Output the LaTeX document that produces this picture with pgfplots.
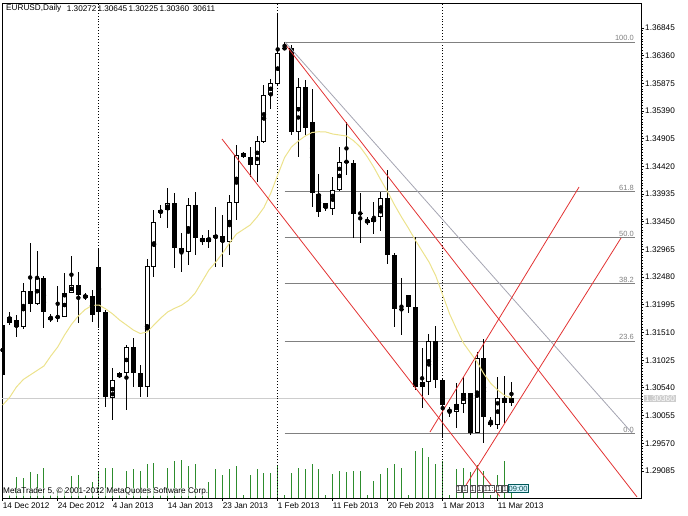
\documentclass[border=0pt]{standalone}
\usepackage{pgfplots}
\usepackage{pgfplotstable}
\usepackage{fontspec}
\setmainfont{Liberation Sans}
\pgfplotsset{compat=1.18}
\definecolor{volgreen}{RGB}{45,140,45}
\definecolor{maY}{RGB}{236,226,140}
\definecolor{chred}{RGB}{226,50,50}
\definecolor{fibgray}{RGB}{128,128,128}
\definecolor{diaggray}{RGB}{165,165,178}
\definecolor{pricegray}{RGB}{205,205,205}
\newcommand\f{\fontsize{8.2}{9}\selectfont}

\pgfplotstableread{
i o h l c v ma
0 1.31642 1.31729 1.30678 1.30766 0 1.30240
1 1.31672 1.31875 1.31642 1.31787 10200 1.30372
2 1.31729 1.31817 1.31437 1.31602 72400 1.30556
3 1.31602 1.32383 1.31567 1.32243 69000 1.30687
4 1.32243 1.33073 1.31875 1.32010 87400 1.30766
5 1.32010 1.32944 1.31992 1.32460 81600 1.30845
6 1.32460 1.32500 1.31584 1.31864 103000 1.30924
7 1.31729 1.31835 1.31700 1.31787 10200 1.31099
8 1.31772 1.32330 1.31700 1.31790 27200 1.31256
9 1.31787 1.32548 1.31777 1.32197 27200 1.31467
10 1.32208 1.32851 1.32197 1.32343 74800 1.31651
11 1.32343 1.32565 1.31672 1.32167 77200 1.31800
12 1.32110 1.32202 1.32089 1.32167 10200 1.31913
13 1.32150 1.32255 1.31700 1.31817 55400 1.31983
14 1.32663 1.32968 1.31584 1.31875 91800 1.31992
15 1.31875 1.31905 1.30211 1.30375 101000 1.31922
16 1.30358 1.30883 1.29978 1.30678 101000 1.31835
17 1.30726 1.30824 1.30708 1.30796 10200 1.31729
18 1.30796 1.31291 1.30153 1.31262 91800 1.31642
19 1.31251 1.31409 1.30561 1.30806 97600 1.31554
20 1.30806 1.30941 1.30375 1.30561 92800 1.31493
21 1.30561 1.32793 1.30375 1.32675 114600 1.31519
22 1.32663 1.33657 1.32488 1.33441 120000 1.31642
23 1.33599 1.33744 1.33511 1.33657 10200 1.31765
24 1.33657 1.34037 1.33336 1.33774 101000 1.31870
25 1.33774 1.33949 1.32635 1.32986 125800 1.31934
26 1.32986 1.33248 1.32576 1.32926 129200 1.31987
27 1.32926 1.33862 1.32693 1.33744 108800 1.32071
28 1.33744 1.33977 1.32868 1.33161 115600 1.32202
29 1.33161 1.33219 1.33043 1.33101 10200 1.32404
30 1.33101 1.33306 1.32986 1.33161 55400 1.32605
31 1.33161 1.33714 1.32663 1.33219 97600 1.32746
32 1.33201 1.33569 1.32663 1.33101 77200 1.32903
33 1.33101 1.33919 1.32868 1.33791 98600 1.33078
34 1.33784 1.34795 1.33481 1.34620 108800 1.33236
35 1.34660 1.34678 1.34562 1.34590 10200 1.33315
36 1.34590 1.34766 1.34240 1.34445 78200 1.33394
37 1.34445 1.34953 1.34152 1.34871 97600 1.33534
38 1.34853 1.35846 1.34825 1.35671 86000 1.33700
39 1.35671 1.35946 1.35421 1.35887 86000 1.33954
40 1.35864 1.37113 1.35829 1.36402 108800 1.34270
41 1.36495 1.36605 1.36460 1.36483 10200 1.34576
42 1.36489 1.36547 1.34970 1.35028 84000 1.34760
43 1.35028 1.35964 1.34590 1.35817 101000 1.34865
44 1.35820 1.35943 1.34970 1.35093 97600 1.34953
45 1.35198 1.35771 1.33714 1.33949 114600 1.35014
46 1.33946 1.34287 1.33539 1.33627 97600 1.35028
47 1.33774 1.33779 1.33639 1.33700 10200 1.35023
48 1.33674 1.34243 1.33569 1.34007 80600 1.34988
49 1.34007 1.34766 1.33990 1.34503 91800 1.34970
50 1.34515 1.35203 1.34270 1.34489 88400 1.34953
51 1.34485 1.34533 1.33161 1.33586 91800 1.34874
52 1.33606 1.33949 1.33073 1.33590 91800 1.34760
53 1.33481 1.33539 1.33394 1.33429 10200 1.34594
54 1.33438 1.33802 1.33236 1.33522 58800 1.34401
55 1.33539 1.33977 1.33289 1.33862 80600 1.34182
56 1.33862 1.34357 1.32711 1.32868 103000 1.33972
57 1.32868 1.32898 1.31612 1.31917 114600 1.33744
58 1.31925 1.32460 1.31467 1.31908 101000 1.33534
59 1.32167 1.32176 1.31847 1.31962 10200 1.33341
60 1.31952 1.33189 1.30503 1.30561 159800 1.33131
61 1.30550 1.31234 1.30183 1.30649 169000 1.32938
62 1.30649 1.31484 1.30416 1.31367 140400 1.32746
63 1.31362 1.31624 1.30533 1.30678 114600 1.32500
64 1.30678 1.30713 1.29662 1.30240 125800 1.32167
65 1.30123 1.30211 1.30035 1.30153 10200 1.31835
66 1.30123 1.30621 1.29832 1.30253 97600 1.31572
67 1.30258 1.30736 1.30095 1.30445 101000 1.31327
68 1.30445 1.30456 1.29715 1.29755 89400 1.31160
69 1.29755 1.31174 1.29745 1.31058 112200 1.30994
70 1.31058 1.31391 1.29569 1.30035 91800 1.30783
71 1.29948 1.30035 1.29860 1.29890 10200 1.30617
72 1.29890 1.30726 1.29815 1.30358 78200 1.30503
73 1.30358 1.30748 1.29920 1.30270 126800 1.30407
74 1.30272 1.30645 1.30225 1.30360 30611 1.30363
}\data

\begin{document}
\begin{tikzpicture}[x=1pt,y=1pt]
\useasboundingbox (0,0) rectangle (688,516);
% volume panel (same frame)
\begin{axis}[at={(2pt,18pt)}, anchor=south west, scale only axis,
  width=639pt, height=495pt, xmin=-0.1, xmax=92.84, ymin=0, ymax=1683000,
  axis lines=none, ticks=none]
\addplot[ycomb, volgreen, line width=1pt, mark=none] table[x=i, y=v] {\data};
\end{axis}
\node[anchor=west, inner sep=0pt, font=\f, fill=white, fill opacity=0.6, text opacity=1] at (3,24.3) {MetaTrader 5, \textcopyright\ 2001-2012 MetaQuotes Software Corp.};

\begin{axis}[at={(2pt,18pt)}, anchor=south west, scale only axis,
  width=639pt, height=495pt,
  xmin=-0.1, xmax=92.84, ymin=1.28611, ymax=1.37283,
  axis line style={black, line width=0.8pt},
  tick align=outside,
  xtick pos=bottom, ytick pos=right, yticklabel pos=right,
  xtick={0,8,16,24,32,40,48,56,64,72},
  xticklabels={14 Dec 2012,24 Dec 2012,4 Jan 2013,14 Jan 2013,23 Jan 2013,1 Feb 2013,11 Feb 2013,20 Feb 2013,1 Mar 2013,11 Mar 2013},
  ytick={1.29085,1.29570,1.30055,1.30540,1.31025,1.31510,1.31995,1.32480,1.32965,1.33450,1.33935,1.34420,1.34905,1.35390,1.35875,1.36360,1.36845},
  yticklabels={1.29085,1.29570,1.30055,1.30540,1.31025,1.31510,1.31995,1.32480,1.32965,1.33450,1.33935,1.34420,1.34905,1.35390,1.35875,1.36360,1.36845},
  minor y tick num=9,
  major tick length=3pt, minor tick length=2pt,
  tick style={black, line width=0.8pt},
  ticklabel style={font=\f},
  xticklabel style={anchor=west, inner xsep=0pt, yshift=-5pt},
  yticklabel style={anchor=west, inner xsep=0pt, xshift=1pt},
  clip=true]
% current price line
\addplot[pricegray, line width=0.8pt] coordinates {(-0.1,1.30360) (92.84,1.30360)};
% period separators
\addplot[black, dotted, line width=0.9pt] coordinates {(14,1.28611) (14,1.37283)};
\addplot[black, dotted, line width=0.9pt] coordinates {(40,1.28611) (40,1.37283)};
\addplot[black, dotted, line width=0.9pt] coordinates {(64,1.28611) (64,1.37283)};
% fibonacci levels
\addplot[fibgray, line width=0.9pt] coordinates {(41,1.36595) (91.97,1.36595)};
\addplot[fibgray, line width=0.9pt] coordinates {(41,1.33978) (91.97,1.33978)};
\addplot[fibgray, line width=0.9pt] coordinates {(41,1.33170) (91.97,1.33170)};
\addplot[fibgray, line width=0.9pt] coordinates {(41,1.32361) (91.97,1.32361)};
\addplot[fibgray, line width=0.9pt] coordinates {(41,1.31361) (91.97,1.31361)};
\addplot[fibgray, line width=0.9pt] coordinates {(41,1.29744) (91.97,1.29744)};
\node[anchor=south east, inner sep=1pt, font=\fontsize{7.5}{8}\selectfont, text=fibgray] at (axis cs:91.97,1.36595) {100.0};
\node[anchor=south east, inner sep=1pt, font=\fontsize{7.5}{8}\selectfont, text=fibgray] at (axis cs:91.97,1.33978) {61.8};
\node[anchor=south east, inner sep=1pt, font=\fontsize{7.5}{8}\selectfont, text=fibgray] at (axis cs:91.97,1.33170) {50.0};
\node[anchor=south east, inner sep=1pt, font=\fontsize{7.5}{8}\selectfont, text=fibgray] at (axis cs:91.97,1.32361) {38.2};
\node[anchor=south east, inner sep=1pt, font=\fontsize{7.5}{8}\selectfont, text=fibgray] at (axis cs:91.97,1.31361) {23.6};
\node[anchor=south east, inner sep=1pt, font=\fontsize{7.5}{8}\selectfont, text=fibgray] at (axis cs:91.97,1.29744) {0.0};
% candles: wicks
\addplot[forget plot, only marks, mark=none,
  error bars/.cd, y dir=both, y explicit, error mark=none,
  error bar style={black, line width=1pt}]
  table[x=i, y expr={(\thisrow{h}+\thisrow{l})/2}, y error expr={(\thisrow{h}-\thisrow{l})/2}] {\data};
% candles: bodies (outline / bearish fill)
\addplot[forget plot, only marks, mark=none,
  error bars/.cd, y dir=both, y explicit, error mark=none,
  error bar style={black, line width=5pt}]
  table[x=i, y expr={(\thisrow{o}+\thisrow{c})/2}, y error expr={abs(\thisrow{c}-\thisrow{o})/2}] {\data};
% candles: bullish white interior
\addplot[forget plot, only marks, mark=none,
  restrict expr to domain={\thisrow{c}-\thisrow{o}}{0:1},
  error bars/.cd, y dir=both, y explicit, error mark=none,
  error bar style={white, line width=3pt}]
  table[x=i, y expr={(\thisrow{o}+\thisrow{c})/2}, y error expr={max(abs(\thisrow{c}-\thisrow{o})/2-0.00017,0)}] {\data};
% moving average
\addplot[maY, line width=1pt, mark=none] table[x=i, y=ma] {\data};
% fibo base line
\addplot[diaggray, line width=0.8pt] coordinates {(41.06,1.36600) (91.54,1.29750)};
% red channel lines
\addplot[chred, line width=0.8pt] coordinates {(41.06,1.36565) (92.26,1.28629)};
\addplot[chred, line width=0.8pt] coordinates {(31.90,1.34900) (72.30,1.28640)};
\addplot[chred, line width=0.8pt] coordinates {(67.40,1.28840) (89.93,1.33166)};
\addplot[chred, line width=0.8pt] coordinates {(62.15,1.29767) (83.83,1.34059)};
\end{axis}
% header
\begin{scope}[every node/.style={anchor=west, inner sep=0pt, font=\f}]
\node at (6,507.7) {EURUSD,Daily};
\node at (66.7,507.7) {1.30272};
\node at (97.3,507.7) {1.30645};
\node at (128.3,507.7) {1.30225};
\node at (159.3,507.7) {1.30360};
\node at (192.7,507.7) {30611};
\end{scope}
% current price tag
\node[anchor=west, fill=pricegray, text=white, inner xsep=1pt, inner ysep=0.5pt, font=\f] at (644,117.8) {1.30360};
% event markers
\begin{scope}[every node/.style={draw=black!70, fill=white, inner xsep=0.5pt, inner ysep=1.2pt, font=\fontsize{7.5}{8}\selectfont, text=black!80}]
\node at (458.8,27.5) {1};
\node at (465,27.5) {1};
\node at (472.7,27.5) {1};
\node at (479.3,27.5) {1};
\node at (488.7,27.5) {11:};
\node at (498.7,27.5) {1};
\node at (505,27.5) {1};
\end{scope}
\node[draw=teal!70!black, fill=cyan!15, inner xsep=1pt, inner ysep=1.2pt, font=\fontsize{7.5}{8}\selectfont, text=teal!60!black, anchor=west] at (507.5,27.5) {09:00};
\end{tikzpicture}
\end{document}
